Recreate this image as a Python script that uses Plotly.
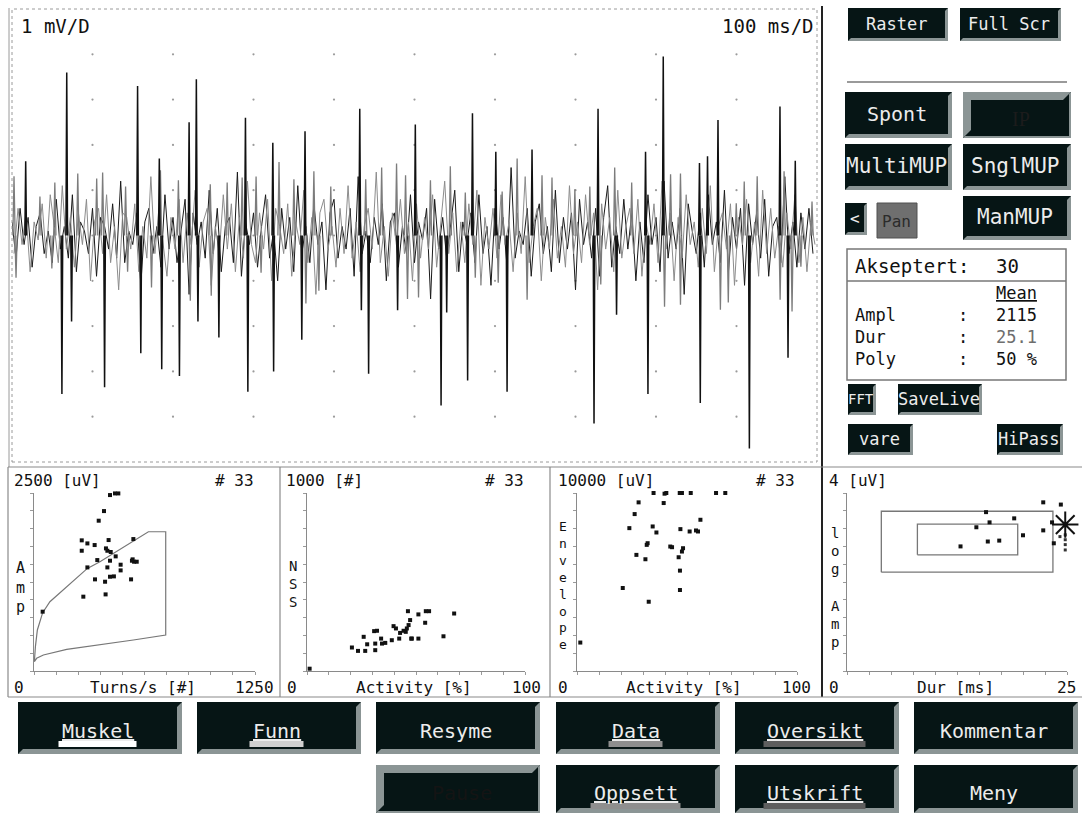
import plotly.graph_objects as go

W, H = 1082, 814
MONO = "DejaVu Sans Mono"


def X(px):
    return px / W


def Y(py):
    return 1 - py / H


# ----------------------------- DATA -----------------------------
# Raw EMG trace, 1 mV/D, 100 ms/D (time in ms, amplitude in mV)
noise_black = [
    0.3, -0.5, 0.6, -0.2, 0.4, -0.7, 0.2, 0.5, -0.4, 0.1,
    -0.6, 0.8, -0.3, 0.2, -0.5, 0.9, -0.8, 0.3, 0.1, -0.4,
    0.6, -0.9, 0.4, 0.2, -0.3, 0.7, -0.5, 1.2, -0.6, 0.1,
    -0.2, 0.5, -1.1, 0.3, 0.6, -0.4, 0.2, -0.7, 0.9, -0.3,
    0.4, -0.6, 0.1, 0.8, -1.3, 0.5, -0.2, 0.3, -0.5, 1.0,
    -0.4, 0.6, -0.8, 0.2, 0.4, -0.6, 1.4, -0.9, 0.3, -0.2,
    0.5, -0.7, 0.2, 0.9, -0.5, 0.1, -1.0, 0.6, -0.3, 0.4,
    -0.8, 1.1, -0.4, 0.2, -0.6, 0.7, -0.2, 0.3, -1.2, 0.5,
    0.8, -0.5, 0.2, -0.3, 0.6, -0.9, 1.3, -0.4, 0.1, -0.6,
    0.4, -0.2, 0.7, -1.0, 0.3, 0.5, -0.7, 0.2, -0.4, 0.9,
    -0.6, 0.3, -0.1, 0.6, -1.4, 0.8, -0.3, 0.4, -0.5, 0.2,
    1.0, -0.8, 0.3, -0.2, 0.5, -0.6, 0.9, -0.4, 0.2, -1.1,
    0.6, -0.3, 0.4, -0.7, 1.5, -0.5, 0.1, -0.2, 0.6, -0.9,
    0.3, 0.7, -0.4, 0.2, -0.8, 1.0, -0.6, 0.4, -0.3, 0.5,
    -1.2, 0.8, -0.2, 0.3, -0.5, 0.6, -0.9, 0.4, 1.1, -0.7,
    0.2, -0.4, 0.8, -0.3, 0.5, -1.0, 0.3, -0.6, 0.9, -0.2,
    0.4, -0.8, 1.2, -0.5, 0.3, -0.3, 0.6, -1.3, 0.7, 0.1,
    -0.4, 0.5, -0.7, 0.9, -0.2, 0.3, -0.6, 1.0, -0.8, 0.4,
    -0.3, 0.6, -1.1, 0.7, -0.2, 0.5, -0.5, 0.8, -0.9, 0.2,
    0.4, -0.6, 1.3, -0.4, 0.3, -0.7, 0.5, -0.3, 0.6, -0.4,
]
noise_gray = [
    -0.4, 0.6, -0.2, 0.5, -0.8, 0.3, -0.1, 0.7, -0.5, 0.9,
    0.2, -0.6, 1.1, -0.3, 0.4, -0.7, 0.5, -0.2, 0.8, -1.0,
    0.3, 0.6, -0.4, 0.9, -0.6, 0.2, -1.2, 0.5, 0.4, -0.3,
    0.7, -0.8, 0.2, -0.5, 1.3, -0.4, 0.6, -0.2, -0.9, 0.4,
    -0.3, 0.8, -0.6, 0.5, -0.2, 1.0, -0.7, 0.3, 0.6, -1.1,
    0.2, -0.4, 0.9, -0.3, 0.7, -0.8, 0.4, -0.5, 1.2, -0.2,
    -0.6, 0.5, -0.3, 0.8, -1.0, 0.6, 0.2, -0.4, 0.7, -0.9,
    0.3, -0.2, 1.0, -0.6, 0.4, -1.3, 0.5, 0.8, -0.3, 0.2,
    -0.7, 0.6, -0.4, 1.1, -0.5, 0.3, -0.8, 0.2, 0.6, -0.3,
    1.4, -0.6, 0.2, -0.9, 0.5, -0.2, 0.8, -0.4, 0.3, -1.0,
    0.7, -0.5, 0.4, -0.3, 0.9, -0.7, 0.2, 1.2, -0.4, 0.5,
    -0.8, 0.3, -0.6, 0.7, -0.2, 1.0, -1.1, 0.4, -0.3, 0.6,
    -0.5, 0.9, -0.2, 0.3, -0.8, 0.5, -0.4, 1.3, -0.6, 0.2,
    0.6, -1.0, 0.4, -0.3, 0.8, -0.5, 0.2, -0.7, 1.1, -0.4,
    0.3, -0.6, 0.9, -0.2, 0.5, -1.2, 0.7, -0.3, 0.4, -0.8,
    1.0, -0.5, 0.2, 0.6, -0.4, 0.8, -0.9, 0.3, -0.2, 0.7,
    -0.6, 1.2, -0.3, 0.5, -1.0, 0.4, -0.5, 0.9, -0.2, 0.3,
    -0.7, 0.6, -0.4, 1.1, -0.8, 0.2, 0.5, -0.3, 0.7, -1.1,
    0.4, -0.2, 0.8, -0.6, 0.3, -0.9, 1.0, -0.4, 0.6, -0.5,
    0.2, -0.7, 0.5, -0.3, 0.9, -0.6, 0.4, -0.8, 0.3, -0.2,
]
sample_ms = 5.0

big_spike_ms = [17, 62, 68, 74, 115, 156, 160, 183, 186, 208, 220, 229, 231, 257,
                290, 293, 324, 325, 360, 364, 432, 434, 443, 479, 501, 533, 540,
                566, 572, 601, 615, 646, 723, 728, 751, 787, 790, 809, 854, 855,
                864, 877, 916, 954, 964, 973]
big_spike_mv = [1.64, -3.5, 3.6, -1.9, -3.35, 3.3, -2.6, 1.7, -2.95, -3.1, 2.5, 3.45,
                -1.9, -2.25, 2.6, -3.45, 2.05, -3.0, -2.3, 2.3, 2.8, -1.65, -3.05,
                -1.65, 2.45, -3.75, -1.7, -3.2, 2.7, 1.85, -3.45, 1.9, -4.15, 2.8,
                -1.75, 1.85, -3.5, 3.95, 1.6, -3.7, 1.75, 2.55, -4.7, 2.85, -2.7, 1.65]

mid_spike_ms = [2.5, 34.7, 53.2, 81.7, 105.2, 112.6, 141.1, 184.4, 206.7, 246.3,
                267.3, 285.9, 303.2, 331.7, 350.2, 375.0, 396.0, 439.4, 459.2, 477.7,
                488.9, 519.8, 544.5, 563.1, 608.9, 627.5, 658.4, 670.8, 699.2, 717.8,
                748.7, 769.8, 818.1, 830.4, 899.7, 909.6, 925.7, 959.1, 993.8,
                5, 49.5, 143.6, 173.3, 221.5, 247.5, 309.4, 365.1, 381.2, 491.3,
                505, 575.5, 604, 639.9, 731.4, 810.6, 830.4, 880, 889.8, 954.2,
                969, 980]
mid_spike_mv = [1.31, 0.86, 1.17, 1.37, 1.26, 1.39, 1.08, 1.44, 1.22, 1.13,
                1.17, 1.28, 1.30, 1.62, 1.24, 1.42, 1.08, 1.24, 1.50, 1.59,
                1.33, 1.22, 1.53, 0.95, 0.97, 1.70, 1.33, 1.28, 1.02, 1.08,
                1.50, 1.17, 1.35, 1.37, 0.71, 1.19, 1.31, 1.42, 0.75,
                -0.93, -0.73, -0.80, -1.15, -1.44, -1.33, -0.82, -1.50, -1.22, -1.40,
                -1.37, -0.93, -1.04, -1.42, -1.08, -1.57, -1.53, -1.64, -1.48, -1.42,
                -1.68, -0.69]

grid_ms = [100, 200, 300, 400, 500, 600, 700, 800, 900]
grid_mv = [-4, -3, -2, -1, 0, 1, 2, 3, 4]

# Panel 1: Amp [uV] vs Turns/s
turns_x = [430, 458, 477, 396, 366, 270, 302, 343, 422, 270, 407, 415, 434, 562, 462,
           358, 302, 430, 415, 490, 490, 558, 566, 581, 345, 402, 430, 452, 549, 279,
           405, 49, 554]
turns_amp = [2471, 2494, 2494, 2246, 2111, 1835, 1792, 1769, 1839, 1689, 1722, 1689,
             1671, 1853, 1610, 1558, 1455, 1549, 1455, 1493, 1413, 1568, 1535, 1535,
             1287, 1254, 1324, 1329, 1287, 1044, 1076, 833, 1549]
cloud_x = [2, 8, 19, 34, 49, 90, 185, 302, 373, 467, 562, 647, 745, 745, 562, 373, 185,
           53, 15, 2]
cloud_y = [131, 342, 576, 716, 819, 973, 1184, 1441, 1535, 1676, 1825, 1956, 1956, 505,
           435, 374, 304, 225, 178, 131]

# Panel 2: NSS [#] vs Activity [%]
nss_act = [1.2, 20.6, 23.4, 26.0, 26.7, 27.6, 30.8, 32.1, 31.3, 31.3, 34.0, 34.4, 35.9,
           38.9, 39.7, 40.8, 42.3, 42.7, 45.3, 45.8, 46.6, 46.3, 47.3, 47.8, 48.1, 51.1,
           51.1, 54.2, 54.5, 56.0, 62.6, 67.5, 44.3]
nss_val = [13, 132, 113, 192, 113, 150, 224, 226, 154, 117, 182, 154, 158, 173, 252, 239,
           182, 214, 220, 239, 258, 336, 286, 182, 182, 182, 318, 271, 336, 336, 195,
           323, 226]

# Panel 3: Envelope [uV] vs Activity [%]
env_act = [1.5, 20.8, 23.8, 26.2, 27.0, 28.0, 31.1, 31.7, 32.1, 32.6, 34.4, 34.8, 36.1,
           39.4, 39.8, 40.6, 42.4, 43.2, 46.2, 46.7, 46.8, 46.8, 47.0, 47.7, 48.2, 47.7,
           51.2, 51.7, 54.1, 55.0, 56.1, 63.2, 67.4]
env_val = [1598, 4662, 8026, 8816, 6523, 9474, 6278, 7086, 7180, 3891, 8120, 10000, 7782,
           9436, 9962, 10000, 6992, 6955, 6391, 10000, 5639, 4549, 7970, 6711, 6898,
           10000, 7838, 10000, 7895, 7838, 8496, 10000, 10000]

# Panel 4: log Amp vs Dur [ms]
mup_dur = [12.9, 14.7, 15.8, 16.2, 16.0, 17.3, 19.0, 20.0, 22.3, 22.3, 23.3, 23.5, 24.3]
mup_logamp = [2.80, 3.23, 3.57, 3.34, 2.91, 2.93, 3.43, 3.05, 3.79, 3.16, 3.34, 2.87, 3.74]
outer_dur = [3.9, 23.4]
outer_amp = [2.22, 3.59]
inner_dur = [8.0, 19.4]
inner_amp = [2.61, 3.30]
mean_dur = [24.8]
mean_logamp = [3.29]
trail_dur = [24.2, 24.8, 24.8, 24.8, 24.8]
trail_amp = [3.02, 3.06, 2.95, 2.84, 2.72]

# Summary box
accepted = 30
mup_count = 33
info_labels = ["Ampl", "Dur", "Poly"]
info_values = ["2115", "25.1", "50 %"]
info_colors = ["#111111", "#6e6e6e", "#111111"]

# ----------------------------- FIGURE -----------------------------
fig = go.Figure()
shapes = []
annotations = []


def line(x0, y0, x1, y1, color, width=1.0, dash=None):
    ln = dict(color=color, width=width)
    if dash:
        ln["dash"] = dash
    shapes.append(dict(type="line", xref="paper", yref="paper", x0=X(x0), y0=Y(y0),
                       x1=X(x1), y1=Y(y1), line=ln))


def rect(x0, y0, x1, y1, fill="rgba(0,0,0,0)", color="rgba(0,0,0,0)", width=0, dash=None):
    ln = dict(color=color, width=width)
    if dash:
        ln["dash"] = dash
    shapes.append(dict(type="rect", xref="paper", yref="paper", x0=X(x0), y0=Y(y1),
                       x1=X(x1), y1=Y(y0), fillcolor=fill, line=ln))


def poly(points, fill):
    path = "M " + " L ".join(f"{X(px):.5f},{Y(py):.5f}" for px, py in points) + " Z"
    shapes.append(dict(type="path", xref="paper", yref="paper", path=path,
                       fillcolor=fill, line=dict(width=0)))


def text(x, y, s, size, color="#111111", xanchor="left", family=MONO, align=None):
    annotations.append(dict(xref="paper", yref="paper", x=X(x), y=Y(y), text=s,
                            showarrow=False, xanchor=xanchor, yanchor="middle",
                            align=align or ("center" if xanchor == "center" else xanchor),
                            font=dict(family=family, size=size, color=color)))


BTN = "#061515"
BEVEL = "#8b9595"


def button(x0, y0, x1, y1, label, size, b=4, pressed=False, tcolor="#ececec",
           family=MONO, cy=None):
    rect(x0, y0, x1, y1, fill=BTN)
    if pressed:
        poly([(x0, y1), (x0, y0), (x1, y0), (x1 - b, y0 + b), (x0 + b, y0 + b),
              (x0 + b, y1 - b)], BEVEL)
        poly([(x1, y0), (x1, y1), (x0, y1), (x0 + 2, y1 - 2), (x1 - 2, y1 - 2),
              (x1 - 2, y0 + 2)], BEVEL)
        cx = (x0 + x1 + b) / 2
        cyy = (y0 + y1 + b) / 2
    else:
        poly([(x1, y0), (x1, y1), (x0, y1), (x0 + b, y1 - b), (x1 - b, y1 - b),
              (x1 - b, y0 + b)], BEVEL)
        cx = (x0 + x1 - b) / 2
        cyy = (y0 + y1 - b) / 2 + 1
    if cy is not None:
        cyy = cy
    text(cx, cyy, label, size, tcolor, "center", family)
    return cx, cyy


# --- main EMG panel ---
fig.add_trace(go.Scatter(
    x=[t for t in grid_ms for v in grid_mv], y=[v for t in grid_ms for v in grid_mv],
    mode="markers", marker=dict(size=2.2, color="#9a9a9a"), xaxis="x", yaxis="y",
    hoverinfo="skip"))
fig.add_trace(go.Scatter(
    x=[i * sample_ms for i in range(len(noise_black))], y=noise_black, mode="lines",
    line=dict(color="#1a1a1a", width=1), xaxis="x", yaxis="y", hoverinfo="skip"))
fig.add_trace(go.Scatter(
    x=[i * sample_ms + sample_ms / 2 for i in range(len(noise_gray))], y=noise_gray,
    mode="lines", line=dict(color="#8c8c8c", width=1), xaxis="x", yaxis="y",
    hoverinfo="skip"))

mx, my = [], []
for t, a in zip(mid_spike_ms, mid_spike_mv):
    mx += [t - 1.4, t, t + 1.4, None]
    my += [0, a, 0, None]
fig.add_trace(go.Scatter(x=mx, y=my, mode="lines", line=dict(color="#7c7c7c", width=1.3),
                         xaxis="x", yaxis="y", hoverinfo="skip"))
bx, by = [], []
for t, a in zip(big_spike_ms, big_spike_mv):
    bx += [t - 1.0, t, t + 1.0, None]
    by += [0, a, 0, None]
fig.add_trace(go.Scatter(x=bx, y=by, mode="lines", line=dict(color="#111111", width=1.5),
                         xaxis="x", yaxis="y", hoverinfo="skip"))

# --- bottom panels ---
dot = dict(symbol="square", size=4, color="#111111")
fig.add_trace(go.Scatter(x=cloud_x, y=cloud_y, mode="lines",
                         line=dict(color="#777777", width=1.2), xaxis="x2", yaxis="y2"))
fig.add_trace(go.Scatter(x=turns_x, y=turns_amp, mode="markers", marker=dot,
                         xaxis="x2", yaxis="y2", cliponaxis=False))
fig.add_trace(go.Scatter(x=nss_act, y=nss_val, mode="markers", marker=dot,
                         xaxis="x3", yaxis="y3", cliponaxis=False))
fig.add_trace(go.Scatter(x=env_act, y=env_val, mode="markers", marker=dot,
                         xaxis="x4", yaxis="y4", cliponaxis=False))
for d, a in ((outer_dur, outer_amp), (inner_dur, inner_amp)):
    fig.add_trace(go.Scatter(x=[d[0], d[1], d[1], d[0], d[0]],
                             y=[a[0], a[0], a[1], a[1], a[0]], mode="lines",
                             line=dict(color="#777777", width=1.3), xaxis="x5", yaxis="y5"))
fig.add_trace(go.Scatter(x=mup_dur, y=mup_logamp, mode="markers", marker=dot,
                         xaxis="x5", yaxis="y5", cliponaxis=False))
fig.add_trace(go.Scatter(x=trail_dur, y=trail_amp, mode="markers",
                         marker=dict(symbol="square", size=3, color="#333333"),
                         xaxis="x5", yaxis="y5", cliponaxis=False))
fig.add_trace(go.Scatter(x=mean_dur, y=mean_logamp, mode="markers",
                         marker=dict(symbol="asterisk-open", size=22, color="#111111",
                                     line=dict(color="#111111", width=2)),
                         xaxis="x5", yaxis="y5", cliponaxis=False))

hidden = dict(showgrid=False, zeroline=False, showticklabels=False, showline=False,
              ticks="")


def small_axis(domain, rng):
    return dict(domain=domain, range=rng, showgrid=False, zeroline=False,
                showticklabels=False, showline=True, linecolor="#8a8a8a", linewidth=1,
                ticks="outside", ticklen=3, tickcolor="#9a9a9a", tickwidth=1,
                dtick=(rng[1] - rng[0]) / 10, tick0=0, fixedrange=True)


ydom = [Y(671), Y(493)]
layout = dict(
    width=W, height=H, margin=dict(l=0, r=0, t=0, b=0),
    paper_bgcolor="white", plot_bgcolor="rgba(0,0,0,0)", showlegend=False,
    xaxis=dict(domain=[X(12), X(817)], range=[0, 1000], **hidden),
    yaxis=dict(domain=[Y(462), Y(9)], range=[-5, 5], **hidden),
    xaxis2=dict(small_axis([X(34), X(255)], [0, 1250]), anchor="y2"),
    yaxis2=dict(small_axis(ydom, [0, 2500]), anchor="x2"),
    xaxis3=dict(small_axis([X(307), X(525)], [0, 100]), anchor="y3"),
    yaxis3=dict(small_axis(ydom, [0, 1000]), anchor="x3"),
    xaxis4=dict(small_axis([X(577), X(797)], [0, 100]), anchor="y4"),
    yaxis4=dict(small_axis(ydom, [0, 10000]), anchor="x4"),
    xaxis5=dict(small_axis([X(847), X(1067)], [0, 25]), anchor="y5"),
    yaxis5=dict(small_axis(ydom, [0, 4]), anchor="x5"),
)

# --- frames ---
line(9, 8, 9, 467, "#9a9a9a", 1)
rect(12, 9, 817, 462, color="#9a9a9a", width=1, dash="dot")
line(822, 6, 822, 697, "#222222", 2)
line(8, 467, 1082, 467, "#8a8a8a", 1.2)
line(8, 697, 1082, 697, "#8a8a8a", 1.2)
line(8, 467, 8, 697, "#8a8a8a", 1.2)
line(280, 467, 280, 697, "#8a8a8a", 1.2)
line(550, 467, 550, 697, "#8a8a8a", 1.2)

text(19, 26, "1 mV/D", 19)
text(816, 26, "100 ms/D", 19, xanchor="right")

# panel labels
count_txt = f"# {mup_count}"
text(12, 480, "2500 [uV]", 16)
text(256, 480, count_txt, 16, xanchor="right")
text(12, 687, "0", 16)
text(143, 687, "Turns/s [#]", 16, xanchor="center")
text(276, 687, "1250", 16, xanchor="right")

text(284, 480, "1000 [#]", 16)
text(526, 480, count_txt, 16, xanchor="right")
text(285, 687, "0", 16)
text(414, 687, "Activity [%]", 16, xanchor="center")
text(543, 687, "100", 16, xanchor="right")

text(556, 480, "10000 [uV]", 16)
text(797, 480, count_txt, 16, xanchor="right")
text(556, 687, "0", 16)
text(684, 687, "Activity [%]", 16, xanchor="center")
text(813, 687, "100", 16, xanchor="right")

text(827, 480, "4 [uV]", 16)
text(827, 687, "0", 16)
text(955, 687, "Dur [ms]", 16, xanchor="center")
text(1078, 687, "25", 16, xanchor="right")

text(20, 587, "<br>".join("Amp"), 15, xanchor="center")
text(293, 584, "<br>".join("NSS"), 14, xanchor="center")
text(563, 585, "<br>".join("Envelope"), 13, xanchor="center")
text(835, 587, "<br>".join(["l", "o", "g", "&nbsp;", "A", "m", "p"]), 14, xanchor="center")

# --- right panel ---
button(848, 8, 948, 41, "Raster", 17, b=3)
button(960, 8, 1061, 41, "Full Scr", 17, b=3)
line(847, 82, 1067, 82, "#9a9a9a", 2)
button(845, 92, 952, 138, "Spont", 20)
button(963, 92, 1071, 138, "IP", 20, b=8, pressed=True, tcolor="#1c1c1c",
       family="Liberation Serif")
button(845, 144, 952, 190, "MultiMUP", 21)
button(963, 144, 1071, 190, "SnglMUP", 21)
button(845, 203, 867, 235, "<", 16, b=3)
rect(877, 203, 917, 238, fill="#6f6f6f", color="#505050", width=1)
text(897, 221, "Pan", 16, "#2b2b2b", "center")
button(963, 196, 1071, 240, "ManMUP", 21)

rect(847, 249, 1066, 380, color="#777777", width=1.5)
line(847, 281, 1066, 281, "#777777", 1.5)
text(853, 266, "Akseptert:", 19)
text(994, 266, str(accepted), 19)
label_block = "<br>".join(["&nbsp;"] + info_labels)
colon_block = "<br>".join(["&nbsp;"] + [":"] * len(info_labels))
value_block = "<br>".join(["<u>Mean</u>"] + [
    f"<span style='color:{c}'>{v}</span>" for v, c in zip(info_values, info_colors)])
text(853, 326, label_block, 17)
text(963, 326, colon_block, 17, xanchor="center")
text(994, 326, value_block, 17)

button(848, 384, 876, 415, "FFT", 14, b=3)
button(898, 384, 982, 415, "SaveLive", 17, b=3)
button(848, 424, 913, 455, "vare", 17, b=3)
button(997, 424, 1063, 455, "HiPass", 17, b=3)

# --- bottom buttons ---
bxs = [18, 197, 376, 556, 735, 914]
bw = 164
row1 = [("Muskel", "#ffffff"), ("Funn", "#d0d0d0"), ("Resyme", None),
        ("Data", "#8e8e8e"), ("Oversikt", "#5e5e5e"), ("Kommentar", None)]
row2 = [None, None, ("Pause", "pressed"), ("Oppsett", "#8e8e8e"),
        ("Utskrift", "#5e5e5e"), ("Meny", None)]
for rowdef, (y0, y1, cyo) in ((row1, (702, 754, 29)), (row2, (765, 813, 28))):
    for x0, item in zip(bxs, rowdef):
        if item is None:
            continue
        label, bar = item
        if bar == "pressed":
            button(x0, y0, x0 + bw, y1, label, 20, b=8, pressed=True, tcolor="#141414",
                   cy=y0 + cyo)
            continue
        shown = f"<u>{label}</u>" if bar else label
        cx, cy = button(x0, y0, x0 + bw, y1, shown, 20, b=5, cy=y0 + cyo)
        if bar:
            half = len(label) * 6.0 + 3
            rect(cx - half, cy + 10, cx + half, cy + 16, fill=bar)

layout["shapes"] = shapes
layout["annotations"] = annotations
fig.update_layout(**layout)
fig.write_html("out.html", config={"displayModeBar": False},
               post_script="document.body.style.margin='0px';"
                           "document.body.style.overflow='hidden';")
